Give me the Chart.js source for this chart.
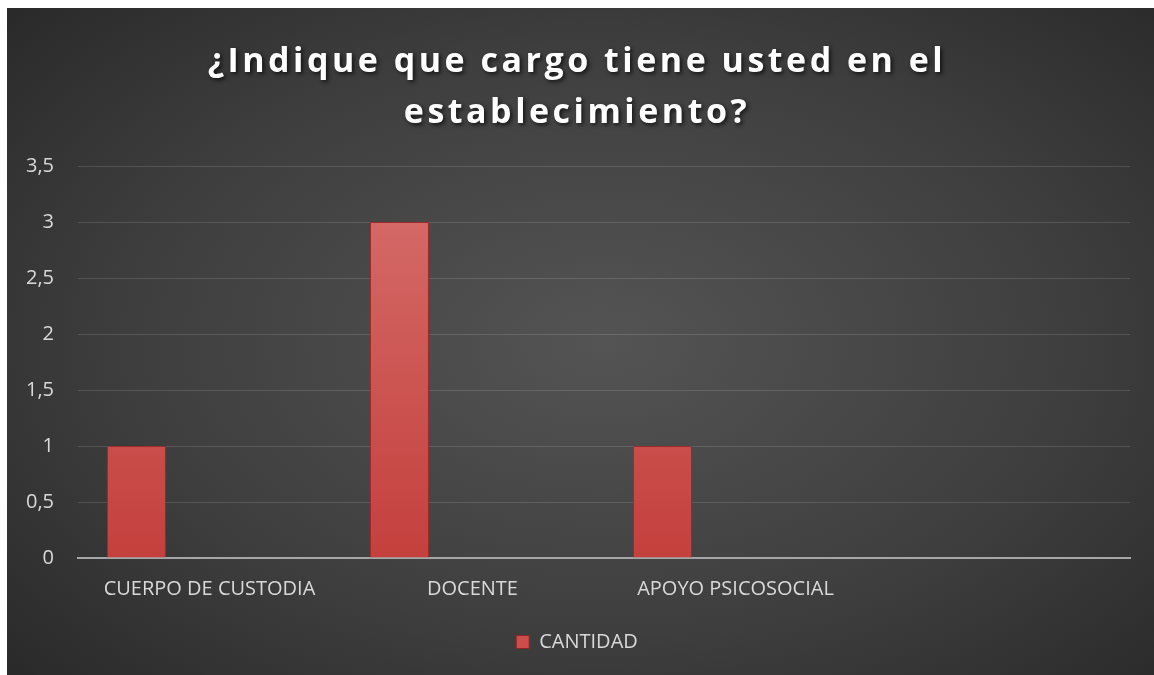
<!DOCTYPE html>
<html>
<head>
<meta charset="utf-8">
<script src="https://cdn.jsdelivr.net/npm/chart.js@4"></script>
<style>
  html, body { margin: 0; padding: 0; background: #ffffff; overflow: hidden; }
  #wrap {
    position: absolute; left: 7px; top: 8px; width: 1147px; height: 667px;
    background: radial-gradient(ellipse 75% 80% at 52% 50%, #545454 0%, #3e3e3e 55%, #262626 100%);
  }
</style>
</head>
<body>
<div id="wrap"><canvas id="grafico"></canvas></div>
<script>
// datos
var categorias = ['CUERPO DE CUSTODIA', 'DOCENTE', 'APOYO PSICOSOCIAL', ''];
var cantidad = [1, 3, 1, null];
// series vacias del libro original (solo ocupan espacio en cada categoria)
var serie2 = [null, null, null, null];
var serie3 = [null, null, null, null];
var titulo = ['¿Indique que cargo tiene usted en el', 'establecimiento?'];

function relleno_barra(context) {
    var chart = context.chart;
    var area = chart.chartArea;
    if (!area) return '#c94a48';
    var ctx = chart.ctx;
    var g = ctx.createLinearGradient(0, area.top, 0, area.bottom);
    g.addColorStop(0, '#d66f6d');
    g.addColorStop(0.5, '#cd5754');
    g.addColorStop(1, '#c4403d');
    return g;
}

var ctx = document.getElementById('grafico').getContext('2d');
var myChart = new Chart(ctx, {
    type: 'bar',
    data: {
        labels: categorias,
        datasets: [
            { label: 'CANTIDAD', data: cantidad, backgroundColor: relleno_barra, borderColor: '#9a2c2a', borderWidth: 1 },
            { label: 'Serie2', data: serie2, backgroundColor: '#4f81bd' },
            { label: 'Serie3', data: serie3, backgroundColor: '#9bbb59' }
        ]
    },
    options: {
        responsive: true,
        maintainAspectRatio: false,
        animation: false,
        categoryPercentage: 0.833,
        barPercentage: 0.808,
        layout: { padding: { left: 17, right: 24, top: 0, bottom: 13 } },
        plugins: {
            title: {
                display: true,
                text: titulo,
                color: '#ffffff',
                font: { family: 'Open Sans', size: 34, weight: 'bold', lineHeight: 1.5 },
                padding: { top: 29, bottom: 27 }
            },
            legend: {
                position: 'bottom',
                labels: {
                    color: '#d9d9d9',
                    font: { family: 'Open Sans', size: 20 },
                    boxWidth: 13,
                    boxHeight: 13,
                    padding: 20,
                    generateLabels: function (chart) {
                        return [{ text: 'CANTIDAD', fillStyle: '#cc4d4a', strokeStyle: '#8a2624', lineWidth: 1, fontColor: '#d9d9d9', datasetIndex: 0 }];
                    }
                }
            },
            tooltip: { enabled: false }
        },
        scales: {
            x: {
                grid: { display: false, drawTicks: false },
                border: { color: '#a6a6a6', width: 2 },
                ticks: { color: '#d9d9d9', font: { family: 'Open Sans', size: 20 }, padding: 19 },
                afterFit: function (scale) {
                    scale.height -= 8;
                    scale.paddingLeft = 0;
                    scale.paddingRight = 0;
                }
            },
            y: {
                min: 0,
                max: 3.5,
                grid: { color: 'rgba(255,255,255,0.13)', lineWidth: 1, drawTicks: false },
                border: { display: false },
                ticks: {
                    stepSize: 0.5,
                    color: '#d9d9d9',
                    font: { family: 'Open Sans', size: 20 },
                    padding: 24,
                    callback: function (v) { return String(v).replace('.', ','); }
                },
                afterFit: function (scale) { scale.width = 54; }
            }
        }
    }
});

// espaciado y sombra del titulo como en el original
var bloque = myChart.titleBlock;
var dibujo_titulo = bloque.draw.bind(bloque);
bloque.draw = function () {
    var c = myChart.ctx;
    c.save();
    c.letterSpacing = '3.5px';
    c.shadowColor = 'rgba(0,0,0,0.7)';
    c.shadowBlur = 4;
    c.shadowOffsetX = 2;
    c.shadowOffsetY = 2;
    dibujo_titulo();
    c.restore();
};
myChart.draw();
</script>
</body>
</html>
